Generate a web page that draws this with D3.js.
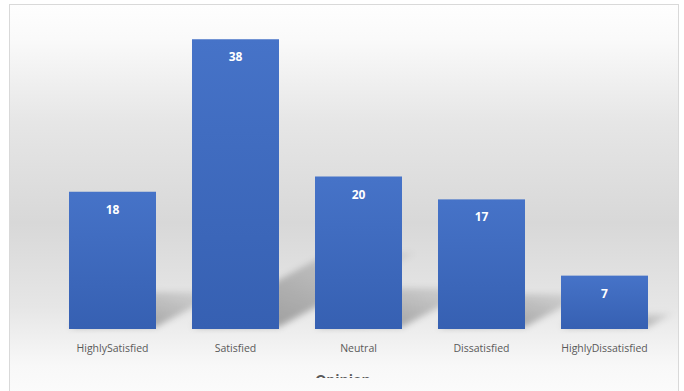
<!DOCTYPE html>
<html>
<head>
<meta charset="utf-8">
<script src="https://cdn.jsdelivr.net/npm/d3@7"></script>
<style>
  html, body { margin: 0; padding: 0; background: #ffffff; }
  svg { display: block; }
</style>
</head>
<body>
<svg id="chart" width="684" height="391"></svg>
<script>
// Survey responses by opinion
const categories = ["HighlySatisfied", "Satisfied", "Neutral", "Dissatisfied", "HighlyDissatisfied"];
const counts = [18, 38, 20, 17, 7];
const axisTitle = "Opinion";

const svg = d3.select("#chart");
const W = 684, H = 391;
const baseY = 329;

const defs = svg.append("defs");

// Soft grey backdrop, darkest through the middle of the plot
const bg = defs.append("linearGradient").attr("id", "bgGrad")
  .attr("x1", 0).attr("y1", 0).attr("x2", 0).attr("y2", 1);
[[0, "#fefefe"], [0.08, "#fafafa"], [0.28, "#e6e6e6"], [0.52, "#d8d8d8"], [0.72, "#e6e6e6"], [0.86, "#f8f8f8"], [1, "#fefefe"]]
  .forEach(([o, c]) => bg.append("stop").attr("offset", o).attr("stop-color", c));

const barGrad = defs.append("linearGradient").attr("id", "barGrad")
  .attr("x1", 0).attr("y1", 0).attr("x2", 0).attr("y2", 1);
barGrad.append("stop").attr("offset", 0).attr("stop-color", "#4673c8");
barGrad.append("stop").attr("offset", 1).attr("stop-color", "#3660b2");

// Cast shadow fades with distance from the base
const shGrad = defs.append("linearGradient").attr("id", "shGrad")
  .attr("x1", 0).attr("y1", 1).attr("x2", 1).attr("y2", 0);
shGrad.append("stop").attr("offset", 0).attr("stop-color", "#000").attr("stop-opacity", 0.38);
shGrad.append("stop").attr("offset", 1).attr("stop-color", "#000").attr("stop-opacity", 0.06);

defs.append("filter").attr("id", "blur").attr("x", "-20%").attr("y", "-20%")
  .attr("width", "140%").attr("height", "140%")
  .append("feGaussianBlur").attr("stdDeviation", 3);

defs.append("clipPath").attr("id", "frameClip")
  .append("rect").attr("x", 0).attr("y", 0).attr("width", W).attr("height", 378);

// Chart frame
svg.append("rect")
  .attr("x", 9.5).attr("y", 4.5).attr("width", 669).attr("height", 420)
  .attr("fill", "url(#bgGrad)").attr("stroke", "#d9d9d9").attr("stroke-width", 1);

const x = d3.scaleBand()
  .domain(categories)
  .range([51, 666])
  .paddingInner(0.2927)
  .paddingOuter(0.1463);

const y = d3.scaleLinear().domain([0, 40]).range([baseY, 24]);

const data = categories.map((c, i) => ({ cat: c, v: counts[i] }));

// Perspective shadows thrown up and to the right of each bar
svg.append("g").attr("filter", "url(#blur)")
  .selectAll("path").data(data).join("path")
  .attr("d", d => {
    const x0 = x(d.cat), x1 = x0 + x.bandwidth();
    const h = baseY - y(d.v);
    const sx = 0.47 * h, sy = 0.255 * h;
    return `M${x0},${baseY - 2}L${x1},${baseY - 2}L${x1 + sx},${baseY - 2 - sy}L${x0 + sx},${baseY - 2 - sy}Z`;
  })
  .attr("fill", "url(#shGrad)");

// Bars
svg.append("g").selectAll("rect").data(data).join("rect")
  .attr("x", d => x(d.cat))
  .attr("y", d => y(d.v))
  .attr("width", x.bandwidth())
  .attr("height", d => baseY - y(d.v))
  .attr("fill", "url(#barGrad)");

// Value labels inside the top of each bar
svg.append("g").selectAll("text").data(data).join("text")
  .attr("x", d => x(d.cat) + x.bandwidth() / 2)
  .attr("y", d => y(d.v) + 22)
  .attr("text-anchor", "middle")
  .attr("font-family", "'Open Sans', sans-serif")
  .attr("font-weight", "bold")
  .attr("font-size", 12)
  .attr("fill", "#ffffff")
  .text(d => d.v);

// Category axis labels
const xAxis = d3.axisBottom(x).tickSize(0).tickPadding(0);
const ax = svg.append("g").attr("transform", `translate(0,${baseY})`).call(xAxis);
ax.select(".domain").remove();
ax.selectAll("text")
  .attr("y", 23)
  .attr("dy", 0)
  .attr("font-family", "'Open Sans', sans-serif")
  .attr("font-size", 10.5)
  .attr("fill", "#595959");

// Axis title (runs past the lower edge of the frame)
svg.append("text")
  .attr("clip-path", "url(#frameClip)")
  .attr("x", 343).attr("y", 385)
  .attr("text-anchor", "middle")
  .attr("font-family", "'Open Sans', sans-serif")
  .attr("font-weight", "bold")
  .attr("font-size", 14)
  .attr("fill", "#595959")
  .text(axisTitle);
</script>
</body>
</html>
